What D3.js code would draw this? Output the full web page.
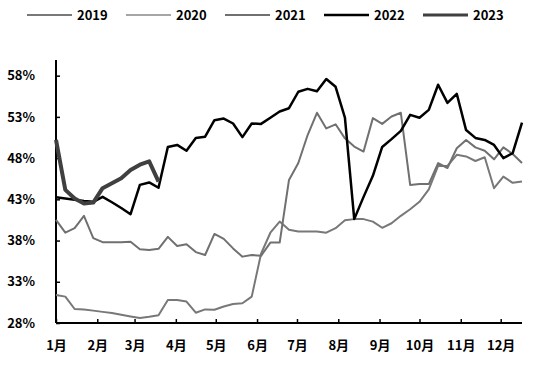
<!DOCTYPE html>
<html lang="zh">
<head>
<meta charset="utf-8">
<title></title>
<script src="https://d3js.org/d3.v7.min.js"></script>
<style>
  body { margin: 0; background: #fff; }
  svg text { font-family: "Noto Sans CJK SC", "DejaVu Sans", sans-serif; font-weight: bold; fill: #000; }
</style>
</head>
<body>
<div id="frame"></div>
<script>
// weekly points, one per week from Jan 1
const weekCount = 51;
const monthLabels = ["1月","2月","3月","4月","5月","6月","7月","8月","9月","10月","11月","12月"];
const yTicks = [0.28, 0.33, 0.38, 0.43, 0.48, 0.53, 0.58];
const years = ["2019", "2020", "2021", "2022", "2023"];

// values in %
const s2019 = [31.4,31.2,29.7,29.65,29.5,29.35,29.2,29.0,28.8,28.6,28.75,28.95,30.8,30.8,30.6,29.25,29.65,29.6,30.0,30.3,
  30.4,31.2,36.4,38.95,40.3,39.3,39.1,39.1,39.1,38.95,39.5,40.45,40.6,40.6,40.3,39.55,40.1,41.0,41.8,42.7,
  44.2,47.05,47.05,48.4,48.2,47.65,48.1,44.35,45.75,45.0,45.15];
const s2020 = [];
const s2021 = [40.5,38.96,39.5,41.0,38.3,37.8,37.8,37.8,37.85,36.95,36.85,37.0,38.45,37.35,37.55,36.6,36.25,38.8,38.2,37.05,
  36.05,36.25,36.15,37.75,37.75,45.35,47.4,50.8,53.5,51.6,52.1,50.4,49.4,48.8,52.85,52.15,53.05,53.5,44.75,44.85,
  44.85,47.4,46.8,49.2,50.2,49.3,48.9,47.85,49.3,48.5,47.4];
const s2022 = [43.25,43.1,42.95,42.8,42.7,43.3,42.65,41.95,41.2,44.75,45.05,44.4,49.35,49.6,48.9,50.45,50.6,52.6,52.8,52.2,
  50.55,52.2,52.15,52.9,53.65,54.05,56.05,56.4,56.1,57.6,56.65,52.9,40.6,43.3,45.85,49.35,50.3,51.3,53.25,52.9,
  53.85,56.9,54.7,55.8,51.4,50.45,50.2,49.6,48.0,48.6,52.3];
const s2023 = [50.2,44.15,43.1,42.5,42.6,44.35,44.95,45.55,46.55,47.2,47.6,45.15];

const colors = ["#787878", "#a6a6a6", "#707070", "#000000", "#404040"];
const widths = [2, 2, 2, 2.5, 4];
const seriesList = [s2019, s2020, s2021, s2022, s2023];

const W = 538, H = 379;
const mLeft = 56, mRight = 522, mTop = 60, mBottom = 323;

const start = new Date(2001, 0, 1);
const dates = d3.range(weekCount).map(i => d3.timeDay.offset(start, i * 7));

const x = d3.scaleTime()
  .domain([start, dates[dates.length - 1]])
  .range([mLeft, mRight]);
const y = d3.scaleLinear()
  .domain([0.28, 0.599])
  .range([mBottom, mTop]);

const svg = d3.select("#frame").append("svg")
  .attr("width", W)
  .attr("height", H);

// axes
const months = d3.timeMonth.range(start, new Date(2001, 11, 2));
const xAxis = d3.axisBottom(x)
  .tickValues(months)
  .tickSize(-4)
  .tickPadding(18)
  .tickFormat((d, i) => monthLabels[i]);
const gx = svg.append("g")
  .attr("transform", `translate(0,${mBottom})`)
  .call(xAxis);
gx.select(".domain").attr("d", `M${mLeft},0H${mRight}`).attr("stroke", "#000").attr("stroke-width", 2);
gx.selectAll(".tick line").attr("stroke", "#000").attr("stroke-width", 1.5);
gx.selectAll(".tick text").style("font-size", "13px");

const yAxis = d3.axisLeft(y)
  .tickValues(yTicks)
  .tickSize(-4)
  .tickPadding(21)
  .tickFormat(d3.format(".0%"));
const gy = svg.append("g")
  .attr("transform", `translate(${mLeft},0)`)
  .call(yAxis);
gy.select(".domain").attr("d", `M0,${mTop}V${mBottom}`).attr("stroke", "#000").attr("stroke-width", 2);
gy.selectAll(".tick line").attr("stroke", "#000").attr("stroke-width", 1.5);
gy.selectAll(".tick text").style("font-size", "13px");

// lines
const line = d3.line()
  .x((d, i) => x(dates[i]))
  .y(d => y(d / 100))
  .curve(d3.curveLinear);

svg.append("g").selectAll("path")
  .data(seriesList)
  .join("path")
  .attr("fill", "none")
  .attr("stroke", (d, i) => colors[i])
  .attr("stroke-width", (d, i) => widths[i])
  .attr("stroke-linejoin", "round")
  .attr("d", d => d.length ? line(d) : null);

// legend
const legend = svg.append("g").attr("transform", "translate(27,15)");
const item = legend.selectAll("g")
  .data(years)
  .join("g")
  .attr("transform", (d, i) => `translate(${i * 99},0)`);
item.append("line")
  .attr("x1", 0).attr("x2", 45)
  .attr("stroke", (d, i) => colors[i])
  .attr("stroke-width", (d, i) => Math.min(widths[i], 3));
item.append("text")
  .attr("x", 50)
  .attr("dy", "0.35em")
  .style("font-size", "13px")
  .text(d => d);
</script>
</body>
</html>
